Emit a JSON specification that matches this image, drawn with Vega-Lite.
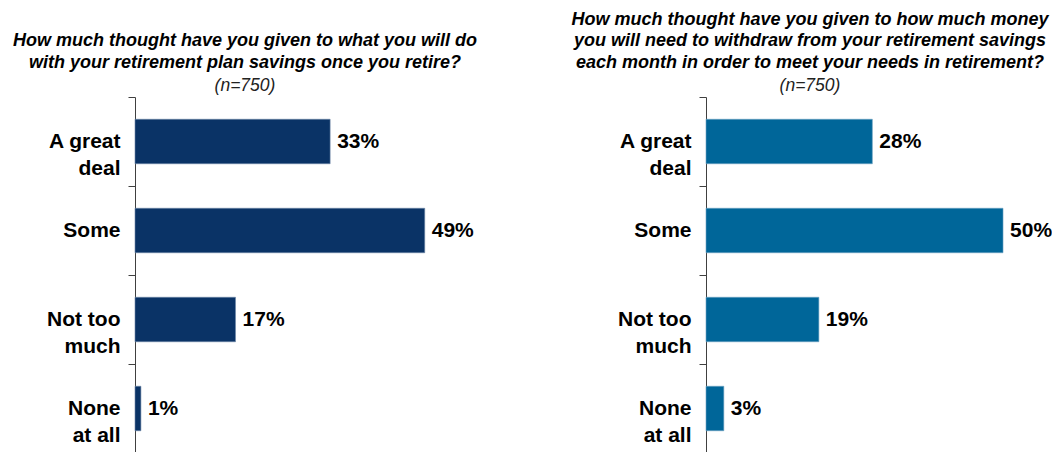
{
  "$schema": "https://vega.github.io/schema/vega-lite/v6.json",
  "background": "white",
  "padding": {"left": 12, "top": 10, "right": 0, "bottom": 0},
  "config": {
    "view": {"stroke": null},
    "font": "Liberation Sans",
    "concat": {"spacing": 231},
    "title": {"font": "Liberation Sans", "fontSize": 18, "fontWeight": "bold", "fontStyle": "italic", "color": "black", "lineHeight": 21.5, "subtitleFont": "Liberation Sans", "subtitleFontSize": 17.5, "subtitleFontStyle": "italic", "subtitleColor": "#222222", "subtitlePadding": 5, "subtitleLineHeight": 20, "offset": -8, "anchor": "middle", "frame": "group"}
  },
  "bounds": "flush",
  "datasets": {
    "left": [
      {"cat": "A great|deal", "pct": 33, "label": "33%"},
      {"cat": "Some", "pct": 49, "label": "49%"},
      {"cat": "Not too|much", "pct": 17, "label": "17%"},
      {"cat": "None|at all", "pct": 1, "label": "1%"}
    ],
    "right": [
      {"cat": "A great|deal", "pct": 28, "label": "28%"},
      {"cat": "Some", "pct": 50, "label": "50%"},
      {"cat": "Not too|much", "pct": 19, "label": "19%"},
      {"cat": "None|at all", "pct": 3, "label": "3%"}
    ]
  },
  "hconcat": [
    {
      "data": {"name": "left"},
      "width": 340,
      "height": 356,
      "title": {"text": ["How much thought have you given to what you will do", "with your retirement plan savings once you retire?"], "subtitle": "(n=750)", "dx": -60},
      "encoding": {
        "y": {"field": "cat", "type": "nominal", "sort": null, "scale": {"padding": 0},
          "axis": {"title": null, "labelExpr": "split(datum.label, '|')", "labelFont": "Liberation Sans", "labelFontSize": 21, "labelFontWeight": "bold", "labelColor": "black", "labelLineHeight": 27, "labelPadding": 8, "tickSize": 7, "tickBand": "extent", "domainColor": "#404040", "tickColor": "#404040", "labelLimit": 200}},
        "x": {"field": "pct", "type": "quantitative", "scale": {"domain": [0, 57.5]}, "axis": null}
      },
      "layer": [
        {"mark": {"type": "bar", "height": {"band": 0.5}, "color": "#0A3366", "stroke": "#6f88a8", "strokeWidth": 0.6}},
        {"mark": {"type": "text", "align": "left", "baseline": "middle", "dx": 7, "font": "Liberation Sans", "fontSize": 21, "fontWeight": "bold", "color": "black"},
          "encoding": {"text": {"field": "label", "type": "nominal"}}}
      ]
    },
    {
      "data": {"name": "right"},
      "width": 300,
      "height": 356,
      "title": {"text": ["How much thought have you given to how much money", "you will need to withdraw from your retirement savings", "each month in order to meet your needs in retirement?"], "subtitle": "(n=750)", "dx": -46},
      "encoding": {
        "y": {"field": "cat", "type": "nominal", "sort": null, "scale": {"padding": 0},
          "axis": {"title": null, "labelExpr": "split(datum.label, '|')", "labelFont": "Liberation Sans", "labelFontSize": 21, "labelFontWeight": "bold", "labelColor": "black", "labelLineHeight": 27, "labelPadding": 8, "tickSize": 7, "tickBand": "extent", "domainColor": "#404040", "tickColor": "#404040", "labelLimit": 200}},
        "x": {"field": "pct", "type": "quantitative", "scale": {"domain": [0, 50.5]}, "axis": null}
      },
      "layer": [
        {"mark": {"type": "bar", "height": {"band": 0.5}, "color": "#006699", "stroke": "#6fa3c3", "strokeWidth": 0.6}},
        {"mark": {"type": "text", "align": "left", "baseline": "middle", "dx": 7, "font": "Liberation Sans", "fontSize": 21, "fontWeight": "bold", "color": "black"},
          "encoding": {"text": {"field": "label", "type": "nominal"}}}
      ]
    }
  ]
}
